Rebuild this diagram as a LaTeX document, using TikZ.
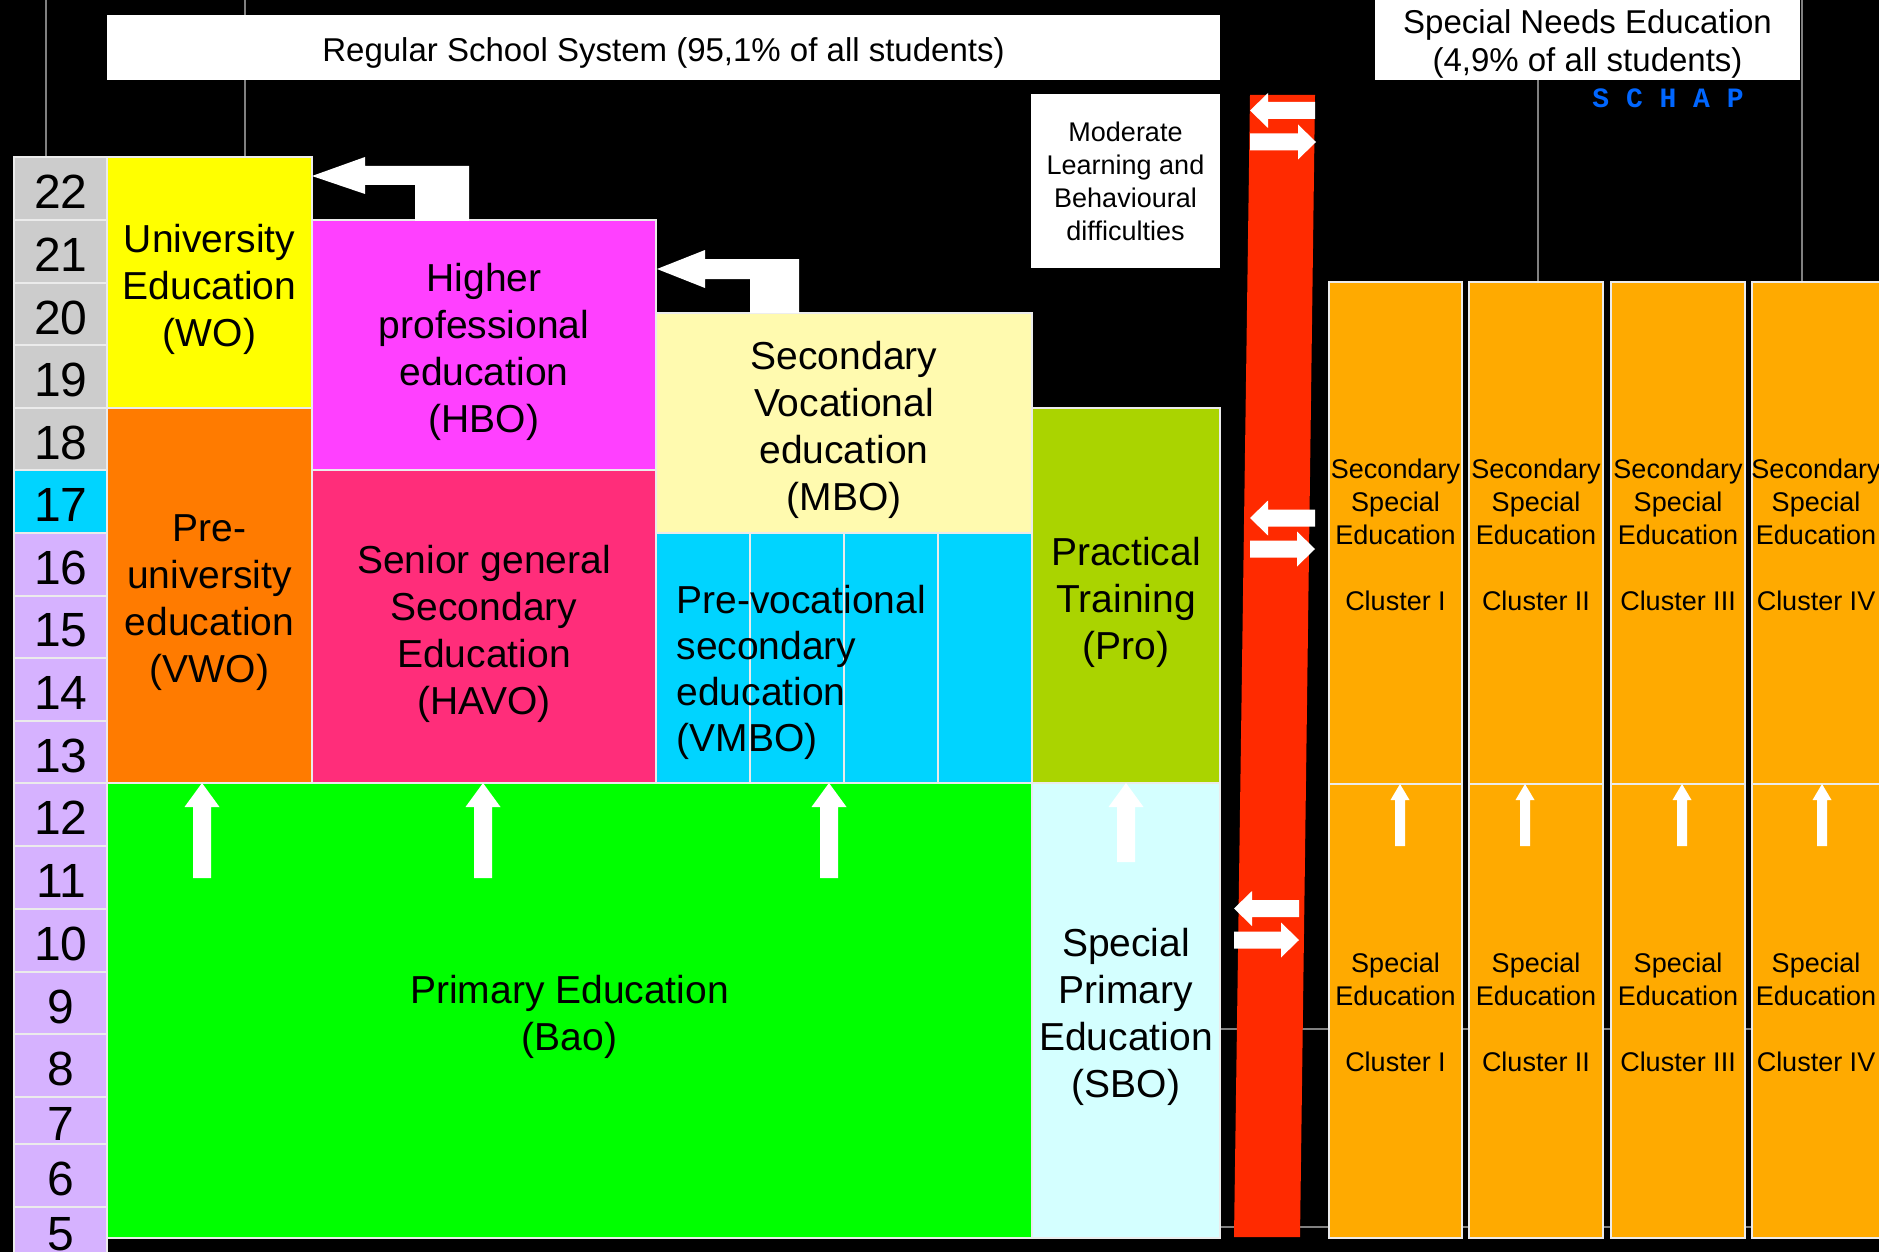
\documentclass[tikz,border=0pt]{standalone}
\usepackage{fontspec}
\setmainfont{Liberation Sans}
\newfontfamily\schapfont{Liberation Mono}
\usetikzlibrary{positioning,calc}

\definecolor{agegray}{RGB}{204,204,204}
\definecolor{agecyan}{RGB}{0,212,255}
\definecolor{agelilac}{RGB}{214,178,255}
\definecolor{woyellow}{RGB}{255,255,0}
\definecolor{hbopink}{RGB}{255,64,255}
\definecolor{vwoorange}{RGB}{255,123,0}
\definecolor{havored}{RGB}{255,45,122}
\definecolor{mboyellow}{RGB}{255,250,175}
\definecolor{vmbocyan}{RGB}{0,212,255}
\definecolor{progreen}{RGB}{170,212,0}
\definecolor{baogreen}{RGB}{0,255,0}
\definecolor{sbocyan}{RGB}{212,255,255}
\definecolor{barred}{RGB}{255,42,0}
\definecolor{clusterorange}{RGB}{255,170,0}
\definecolor{schapblue}{RGB}{0,102,255}
\definecolor{gridgray}{RGB}{128,128,128}
\definecolor{edgegray}{RGB}{235,235,235}

\tikzset{
  block/.style={draw=edgegray,line width=2pt,inner sep=0pt},
  bigtext/.style={font=\fontsize{39}{47}\selectfont,align=center},
  bannertext/.style={font=\fontsize{33}{38}\selectfont,align=center},
  smalltext/.style={font=\fontsize{27}{33}\selectfont,align=center},
  agetext/.style={font=\fontsize{48}{48}\selectfont},
  gridline/.style={draw=gridgray,line width=1.5pt}
}

\begin{document}
\begin{tikzpicture}[x=1pt,y=-1pt]
% background
\fill[black] (0,0) rectangle (1879,1252);
\useasboundingbox (0,0) rectangle (1879,1252);
% draw grid lines
\draw[gridline] (46,0) -- (46,157);
\draw[gridline] (245,0) -- (245,157);
\draw[gridline] (1538,80) -- (1538,282);
\draw[gridline] (1802,0) -- (1802,282);
\draw[gridline] (1220,1029) -- (1879,1029);
\draw[gridline] (1220,1227) -- (1879,1227);
% draw banners
\node[fill=white,minimum width=1113,minimum height=65,inner sep=0pt] (regular) at (663.5,47.5) {};
\node[bannertext] (regulartext) at ([yshift=-5pt]regular.center) {Regular School System (95,1\% of all students)};
\node[fill=white,minimum width=425,minimum height=82,inner sep=0pt] (special) at (1587.5,39) {};
\node[bannertext] (specialtext) at ([yshift=-5pt]special.center) {Special Needs Education\\(4,9\% of all students)};
\node[text=schapblue,font=\schapfont\bfseries\fontsize{28}{28}\selectfont] (schap) at (1668,98) {S C H A P};
\node[fill=white,minimum width=189,minimum height=174,inner sep=0pt,smalltext] (moderate) at (1125.5,181) {Moderate\\Learning and\\Behavioural\\difficulties};
% draw age column
\foreach \age/\top/\bot/\col in {22/157/220/agegray,21/220/283/agegray,20/283/345/agegray,19/345/408/agegray,18/408/470/agegray,17/470/533/agecyan,16/533/596/agelilac,15/596/658/agelilac,14/658/721/agelilac,13/721/783/agelilac,12/783/846/agelilac,11/846/909/agelilac,10/909/972/agelilac,9/972/1034/agelilac,8/1034/1097/agelilac,7/1097/1144/agelilac,6/1144/1207/agelilac,5/1207/1255/agelilac}
{
  \filldraw[fill=\col,draw=edgegray,line width=2pt] (14,\top) rectangle (107,\bot);
  \node[agetext] (age\age) at (61,{(\top+\bot)/2+3.5}) {\age};
}
% draw regular school boxes
\node[block,fill=woyellow,minimum width=205,minimum height=251] (wo) at (209.5,282.5) {};
\node[block,fill=hbopink,minimum width=344,minimum height=250] (hbo) at (484,345) {};
\node[block,fill=vwoorange,minimum width=205,minimum height=375] (vwo) at (209.5,595.5) {};
\node[block,fill=havored,minimum width=344,minimum height=313] (havo) at (484,626.5) {};
\node[block,fill=mboyellow,minimum width=376,minimum height=220] (mbo) at (844,423) {};
\foreach \xa/\xb in {656/750,750/844,844/938,938/1032}
  \filldraw[fill=vmbocyan,draw=edgegray,line width=2pt] (\xa,533) rectangle (\xb,783);
\node[block,fill=progreen,minimum width=188,minimum height=375] (pro) at (1126,595.5) {};
\node[block,fill=baogreen,minimum width=925,minimum height=455] (bao) at (569.5,1010.5) {};
\node[block,fill=sbocyan,minimum width=188,minimum height=455] (sbo) at (1126,1010.5) {};
% draw box texts
\node[bigtext] (wotext) at ([yshift=-7pt]wo.center) {University\\Education\\(WO)};
\node[bigtext] (hbotext) at ([yshift=-7pt]hbo.center) {Higher\\professional\\education\\(HBO)};
\node[bigtext] (vwotext) at ([yshift=-7pt]vwo.center) {Pre-\\university\\education\\(VWO)};
\node[bigtext] (havotext) at ([yshift=-7pt]havo.center) {Senior general\\Secondary\\Education\\(HAVO)};
\node[bigtext] (mbotext) at ([yshift=-7pt]mbo.center) {Secondary\\Vocational\\education\\(MBO)};
\node[anchor=west,align=left,font=\fontsize{39}{46}\selectfont] (vmbo) at (673,672) {Pre-vocational\\secondary\\education\\(VMBO)};
\node[bigtext] (protext) at ([yshift=-7pt]pro.center) {Practical\\Training\\(Pro)};
\node[bigtext] (baotext) at ([yshift=-6pt]bao.center) {Primary Education\\(Bao)};
\node[bigtext] (sbotext) at ([yshift=-6pt]sbo.center) {Special\\Primary\\Education\\(SBO)};
% draw bent arrows
\fill[white] (312,176) -- (365,157) -- (365,166) -- (469,166) -- (469,221) -- (415,221) -- (415,185) -- (365,185) -- (365,194) -- cycle;
\fill[white] (657,269) -- (705,250) -- (705,259) -- (799,259) -- (799,313) -- (750,313) -- (750,279) -- (705,279) -- (705,288) -- cycle;
% draw up arrows
\foreach \x/\b in {202/878,483/878,829/878,1126/862}
  \fill[white] (\x,783) -- (\x+17.5,807) -- (\x+9,807) -- (\x+9,\b) -- (\x-9,\b) -- (\x-9,807) -- (\x-17.5,807) -- cycle;
% draw red bar
\fill[barred] (1250,95) -- (1315,95) -- (1300,1237) -- (1234,1237) -- cycle;
\foreach \c/\xa/\xb in {110.5/1250/1315,518/1250/1315,908.5/1234/1299}
  \fill[white] (\xa,\c) -- (\xa+18,\c-17.5) -- (\xa+18,\c-8.5) -- (\xb,\c-8.5) -- (\xb,\c+8.5) -- (\xa+18,\c+8.5) -- (\xa+18,\c+17.5) -- cycle;
\foreach \c/\xa/\xb in {142/1250/1316,549/1250/1315,940/1234/1299}
  \fill[white] (\xb,\c) -- (\xb-18,\c-17.5) -- (\xb-18,\c-8.5) -- (\xa,\c-8.5) -- (\xa,\c+8.5) -- (\xb-18,\c+8.5) -- (\xb-18,\c+17.5) -- cycle;
% draw special education clusters
\foreach \n/\xa/\xb/\xt/\xu/\cl in {1/1329/1462/1395.5/1400/I,2/1469/1603/1536/1525/II,3/1611/1745/1678/1682/III,4/1752/1886/1816/1822/IV}
{
  \filldraw[fill=clusterorange,draw=edgegray,line width=2pt] (\xa,282) rectangle (\xb,784);
  \filldraw[fill=clusterorange,draw=edgegray,line width=2pt] (\xa,784) rectangle (\xb,1238);
  \node[smalltext] (sec\n) at (\xt,535) {Secondary\\Special\\Education\\[33pt]Cluster \cl};
  \node[smalltext] (spe\n) at (\xt,1012) {Special\\Education\\[33pt]Cluster \cl};
  \fill[white] (\xu,784) -- (\xu+9.5,800) -- (\xu+5,800) -- (\xu+5,846) -- (\xu-5,846) -- (\xu-5,800) -- (\xu-9.5,800) -- cycle;
}
\end{tikzpicture}
\end{document}
